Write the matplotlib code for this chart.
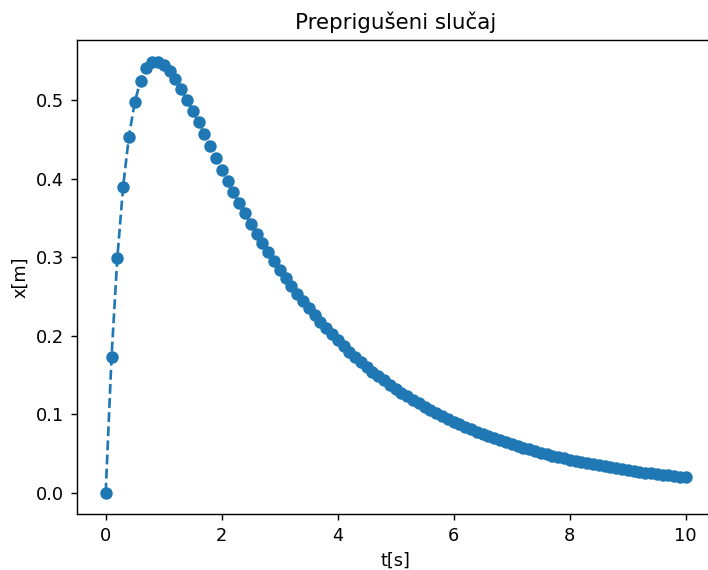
import numpy as np
from matplotlib import pyplot as plt

# time samples and displacement
t = [0.0, 0.1, 0.2, 0.3, 0.4, 0.5, 0.6, 0.7, 0.8, 0.9,
     1.0, 1.1, 1.2, 1.3, 1.4, 1.5, 1.6, 1.7, 1.8, 1.9,
     2.0, 2.1, 2.2, 2.3, 2.4, 2.5, 2.6, 2.7, 2.8, 2.9,
     3.0, 3.1, 3.2, 3.3, 3.4, 3.5, 3.6, 3.7, 3.8, 3.9,
     4.0, 4.1, 4.2, 4.3, 4.4, 4.5, 4.6, 4.7, 4.8, 4.9,
     5.0, 5.1, 5.2, 5.3, 5.4, 5.5, 5.6, 5.7, 5.8, 5.9,
     6.0, 6.1, 6.2, 6.3, 6.4, 6.5, 6.6, 6.7, 6.8, 6.9,
     7.0, 7.1, 7.2, 7.3, 7.4, 7.5, 7.6, 7.7, 7.8, 7.9,
     8.0, 8.1, 8.2, 8.3, 8.4, 8.5, 8.6, 8.7, 8.8, 8.9,
     9.0, 9.1, 9.2, 9.3, 9.4, 9.5, 9.6, 9.7, 9.8, 9.9,
     10.0]

x = [0.0, 0.1725, 0.2988, 0.3898, 0.4538, 0.4974, 0.5253, 0.5415, 0.5488, 0.5495,
     0.5452, 0.5374, 0.5269, 0.5146, 0.5011, 0.4867, 0.4719, 0.4568, 0.4417, 0.4267,
     0.4119, 0.3974, 0.3832, 0.3694, 0.3560, 0.3429, 0.3303, 0.3181, 0.3064, 0.2950,
     0.2840, 0.2735, 0.2633, 0.2534, 0.2440, 0.2349, 0.2261, 0.2176, 0.2095, 0.2016,
     0.1941, 0.1868, 0.1798, 0.1731, 0.1666, 0.1604, 0.1543, 0.1486, 0.1430, 0.1376,
     0.1325, 0.1275, 0.1227, 0.1181, 0.1137, 0.1094, 0.1053, 0.1014, 0.0976, 0.0939,
     0.0904, 0.0870, 0.0838, 0.0806, 0.0776, 0.0747, 0.0719, 0.0692, 0.0666, 0.0641,
     0.0617, 0.0594, 0.0572, 0.0550, 0.0530, 0.0510, 0.0491, 0.0472, 0.0455, 0.0438,
     0.0421, 0.0405, 0.0390, 0.0376, 0.0362, 0.0348, 0.0335, 0.0322, 0.0310, 0.0299,
     0.0288, 0.0277, 0.0266, 0.0256, 0.0247, 0.0238, 0.0229, 0.0220, 0.0212, 0.0204,
     0.0196]

fig = plt.figure(figsize=(708/128, 570/128), dpi=128)
# axes runs past the right edge of the picture, as in the cropped reference
ax = fig.add_axes([76.7/708, 1 - 514.2/570, 638/708, 474.2/570])

ax.plot(t, x, 'o--', color='C0')
ax.set_title('Preprigušeni slučaj')
ax.set_xlabel('t[s]')
ax.set_ylabel('x[m]')
ax.spines.right.set_visible(False)

plt.savefig('out.png', dpi=128)
